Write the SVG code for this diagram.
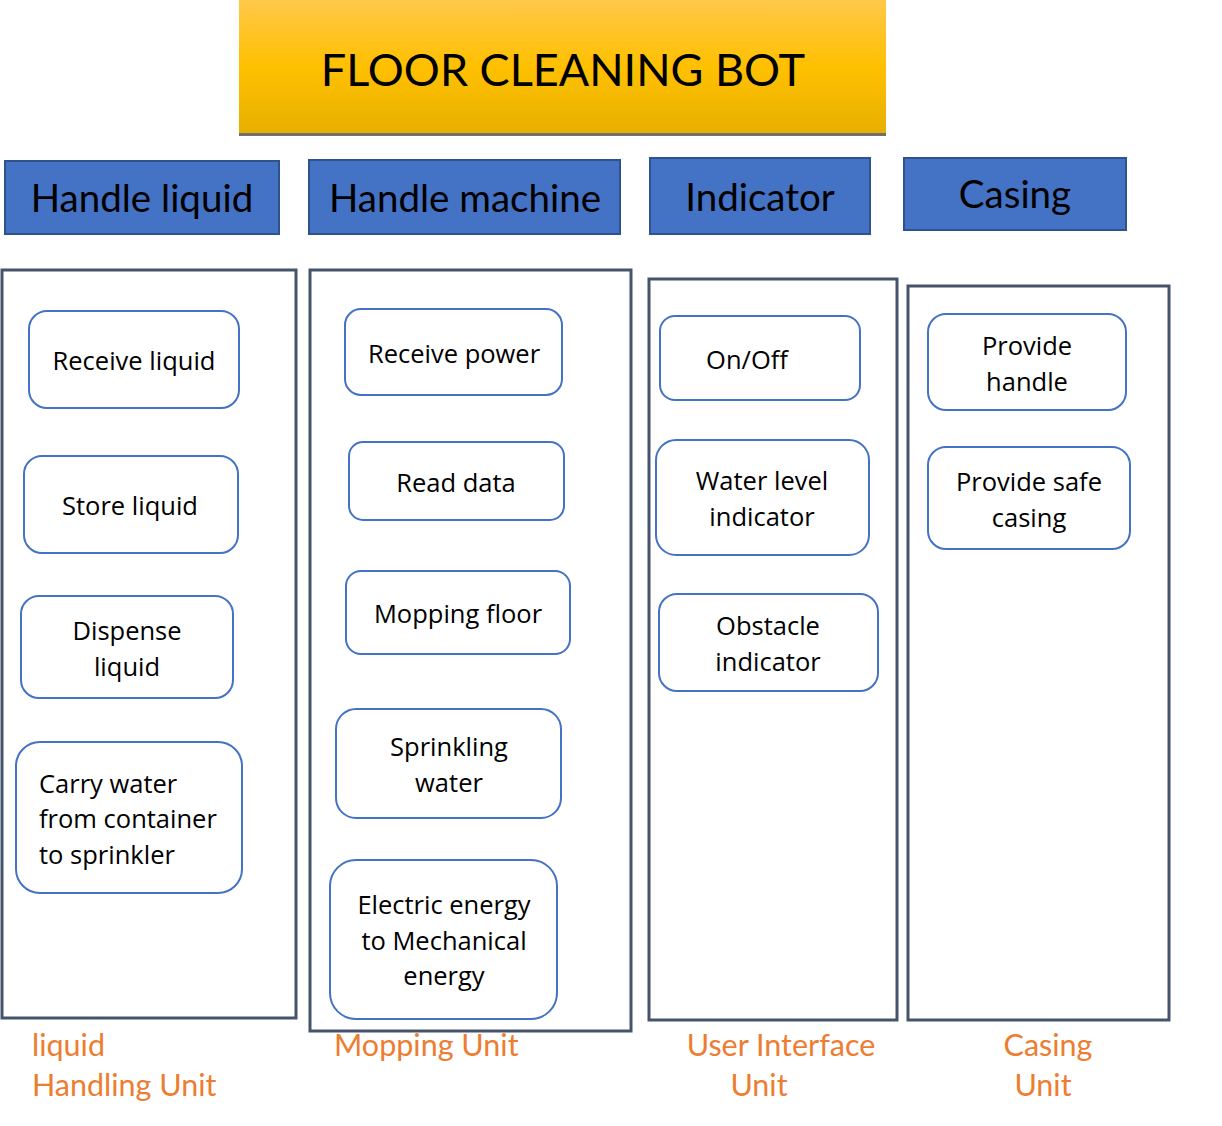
<svg xmlns="http://www.w3.org/2000/svg" width="1222" height="1126" viewBox="0 0 1222 1126">
<defs>
<linearGradient id="gold" x1="0" y1="0" x2="0" y2="1">
<stop offset="0" stop-color="#FFC84A"/>
<stop offset="0.5" stop-color="#FFC000"/>
<stop offset="1" stop-color="#E6B000"/>
</linearGradient>
<style>
.hdr{fill:#4472C4;stroke:#2F528F;stroke-width:2}
.hdrt{font-family:Lato,"Liberation Sans",sans-serif;font-size:38.5px;fill:#000;text-anchor:middle}
.cont{fill:none;stroke:#44546A;stroke-width:3}
.node{fill:#fff;stroke:#4472C4;stroke-width:2}
.nt{font-family:"Open Sans","Noto Sans",sans-serif;font-size:25.5px;fill:#000;text-anchor:middle}
.ntl{font-family:"Open Sans","Noto Sans",sans-serif;font-size:25.5px;fill:#000}
.lab{font-family:Lato,"Liberation Sans",sans-serif;font-size:30.5px;fill:#ED7D31}
</style>
</defs>
<rect width="1222" height="1126" fill="#fff"/>
<g id="title">
<rect x="239" y="0" width="647" height="134" fill="url(#gold)"/>
<line x1="239" y1="134.5" x2="886" y2="134.5" stroke="#707070" stroke-width="3"/>
<text x="563" y="86" font-family="Lato,'Liberation Sans',sans-serif" font-size="45" text-anchor="middle" fill="#000">FLOOR CLEANING BOT</text>
</g>
<g id="headers">
<g id="h-liquid"><rect class="hdr" x="5" y="161" width="274" height="73"/><text class="hdrt" x="142" y="212">Handle liquid</text></g>
<g id="h-machine"><rect class="hdr" x="309" y="160" width="311" height="74"/><text class="hdrt" x="465" y="212">Handle machine</text></g>
<g id="h-indicator"><rect class="hdr" x="650" y="158" width="220" height="76"/><text class="hdrt" x="760" y="211">Indicator</text></g>
<g id="h-casing"><rect class="hdr" x="904" y="158" width="222" height="72"/><text class="hdrt" x="1015" y="208">Casing</text></g>
</g>
<g id="containers">
<rect class="cont" x="2" y="270" width="294" height="748"/>
<rect class="cont" x="310" y="270" width="321" height="761"/>
<rect class="cont" x="649" y="279" width="248" height="741"/>
<rect class="cont" x="908" y="286" width="261" height="734"/>
</g>
<g id="connectors"></g>
<g id="n-receive-liquid"><rect class="node" x="29" y="311" width="210" height="97" rx="18"/><text class="nt" x="134" y="370">Receive liquid</text></g>
<g id="n-store-liquid"><rect class="node" x="24" y="456" width="214" height="97" rx="18"/><text class="nt" x="130" y="515">Store liquid</text></g>
<g id="n-dispense-liquid"><rect class="node" x="21" y="596" width="212" height="102" rx="18"/><text class="nt" x="127" y="640">Dispense</text><text class="nt" x="127" y="676">liquid</text></g>
<g id="n-carry-water"><rect class="node" x="16" y="742" width="226" height="151" rx="24"/><text class="ntl" x="39" y="793">Carry water</text><text class="ntl" x="39" y="828">from container</text><text class="ntl" x="39" y="864">to sprinkler</text></g>
<g id="n-receive-power"><rect class="node" x="345" y="309" width="217" height="86" rx="16"/><text class="nt" x="454" y="363">Receive power</text></g>
<g id="n-read-data"><rect class="node" x="349" y="442" width="215" height="78" rx="14"/><text class="nt" x="456" y="492">Read data</text></g>
<g id="n-mopping-floor"><rect class="node" x="346" y="571" width="224" height="83" rx="15"/><text class="nt" x="458" y="623">Mopping floor</text></g>
<g id="n-sprinkling"><rect class="node" x="336" y="709" width="225" height="109" rx="20"/><text class="nt" x="449" y="756">Sprinkling</text><text class="nt" x="449" y="792">water</text></g>
<g id="n-electric"><rect class="node" x="330" y="860" width="227" height="159" rx="26"/><text class="nt" x="444" y="914">Electric energy</text><text class="nt" x="444" y="950">to Mechanical</text><text class="nt" x="444" y="985">energy</text></g>
<g id="n-onoff"><rect class="node" x="660" y="316" width="200" height="84" rx="15"/><text class="nt" x="747" y="369">On/Off</text></g>
<g id="n-water-level"><rect class="node" x="656" y="440" width="213" height="115" rx="20"/><text class="nt" x="762" y="490">Water level</text><text class="nt" x="762" y="526">indicator</text></g>
<g id="n-obstacle"><rect class="node" x="659" y="594" width="219" height="97" rx="18"/><text class="nt" x="768" y="635">Obstacle</text><text class="nt" x="768" y="671">indicator</text></g>
<g id="n-handle"><rect class="node" x="928" y="314" width="198" height="96" rx="18"/><text class="nt" x="1027" y="355">Provide</text><text class="nt" x="1027" y="391">handle</text></g>
<g id="n-safe-casing"><rect class="node" x="928" y="447" width="202" height="102" rx="18"/><text class="nt" x="1029" y="491">Provide safe</text><text class="nt" x="1029" y="527">casing</text></g>
<g id="labels">
<text class="lab" x="32" y="1056">liquid</text>
<text class="lab" x="32" y="1096">Handling Unit</text>
<text class="lab" x="334" y="1056">Mopping Unit</text>
<text class="lab" x="781" y="1056" text-anchor="middle">User Interface</text>
<text class="lab" x="759" y="1096" text-anchor="middle">Unit</text>
<text class="lab" x="1048" y="1056" text-anchor="middle">Casing</text>
<text class="lab" x="1043" y="1096" text-anchor="middle">Unit</text>
</g>
</svg>
